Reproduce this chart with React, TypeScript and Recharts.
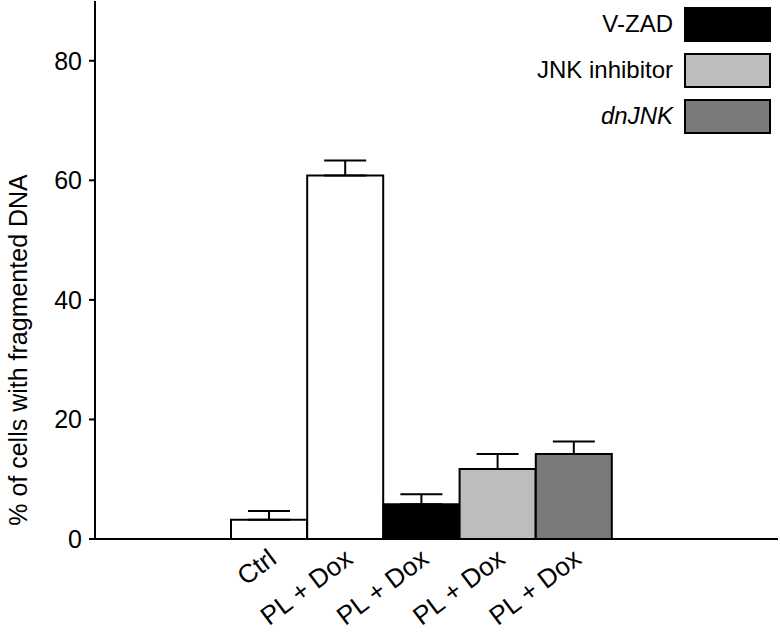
import { BarChart, Bar, XAxis, YAxis, ErrorBar, Cell } from "recharts";

const categories = ["Ctrl", "PL + Dox", "PL + Dox", "PL + Dox", "PL + Dox"];
const values = [3.2, 60.8, 5.8, 11.7, 14.2];
const errors = [1.5, 2.5, 1.7, 2.5, 2.1];
const fills = ["#ffffff", "#ffffff", "#000000", "#bdbdbd", "#7a7a7a"];
const yTicks = [0, 20, 40, 60, 80];

const legendItems = [
  { label: "V-ZAD", color: "#000000", italic: false },
  { label: "JNK inhibitor", color: "#bdbdbd", italic: false },
  { label: "dnJNK", color: "#7a7a7a", italic: true },
];

const data = categories.map((name, i) => ({
  id: i,
  name,
  value: values[i],
  err: [0, errors[i]],
}));

const font = "'Liberation Sans', Arial, Helvetica, sans-serif";

function XTick({ x, y, payload }: any) {
  return (
    <g transform={`translate(${x + 9},${y + 15})`}>
      <text
        textAnchor="end"
        transform="rotate(-37)"
        fontSize={26}
        fontFamily={font}
        fill="#000"
      >
        {categories[payload.index] ?? payload.value}
      </text>
    </g>
  );
}

// legend drawn on top of the plot, top right corner
function LegendBox() {
  return (
    <div style={{ position: "absolute", left: 0, top: 0, width: 780, height: 140, pointerEvents: "none" }}>
      {legendItems.map((item, i) => (
        <div key={item.label}>
          <div
            style={{
              position: "absolute",
              right: 107,
              top: 7 + i * 46,
              fontSize: 24,
              fontFamily: font,
              fontStyle: item.italic ? "italic" : "normal",
              lineHeight: "33px",
              whiteSpace: "nowrap",
            }}
          >
            {item.label}
          </div>
          <div
            style={{
              position: "absolute",
              left: 684,
              top: 7 + i * 46,
              width: 83,
              height: 31,
              background: item.color,
              border: "2px solid #000",
            }}
          />
        </div>
      ))}
    </div>
  );
}

export default function App() {
  return (
    <div style={{ position: "absolute", left: 0, top: 0, width: 780, height: 639, background: "#fff" }}>
      <BarChart
        width={780}
        height={639}
        data={data}
        margin={{ top: 1, right: 2, bottom: 0, left: 0 }}
        barCategoryGap={0}
      >
        <XAxis
          dataKey="id"
          height={100}
          padding={{ left: 136, right: 166 }}
          tickLine={false}
          axisLine={{ stroke: "#000", strokeWidth: 2 }}
          tick={<XTick />}
          interval={0}
        />
        <XAxis xAxisId="top" orientation="top" dataKey="id" height={0} tick={false} tickLine={false} axisLine={{ stroke: "#000", strokeWidth: 2 }} />
        <YAxis
          domain={[0, 90]}
          ticks={yTicks}
          width={95}
          tickSize={6}
          tickMargin={7}
          axisLine={{ stroke: "#000", strokeWidth: 2 }}
          tickLine={{ stroke: "#000", strokeWidth: 2 }}
          tick={{ fill: "#000", fontSize: 25, fontFamily: font }}
          label={{
            value: "% of cells with fragmented DNA",
            angle: -90,
            position: "insideLeft",
            dx: 13,
            dy: 80,
            style: { textAnchor: "middle", fill: "#000", fontSize: 25, fontFamily: font },
          }}
        />
        <YAxis yAxisId="right" orientation="right" domain={[0, 90]} width={0} tick={false} tickLine={false} axisLine={{ stroke: "#000", strokeWidth: 2 }} />
        <Bar dataKey="value" stroke="#000" strokeWidth={2} isAnimationActive={false}>
          {data.map((d, i) => (
            <Cell key={d.id} fill={fills[i]} />
          ))}
          <ErrorBar dataKey="err" direction="y" width={21} stroke="#000" strokeWidth={2} />
        </Bar>
      </BarChart>
      <LegendBox />
    </div>
  );
}
